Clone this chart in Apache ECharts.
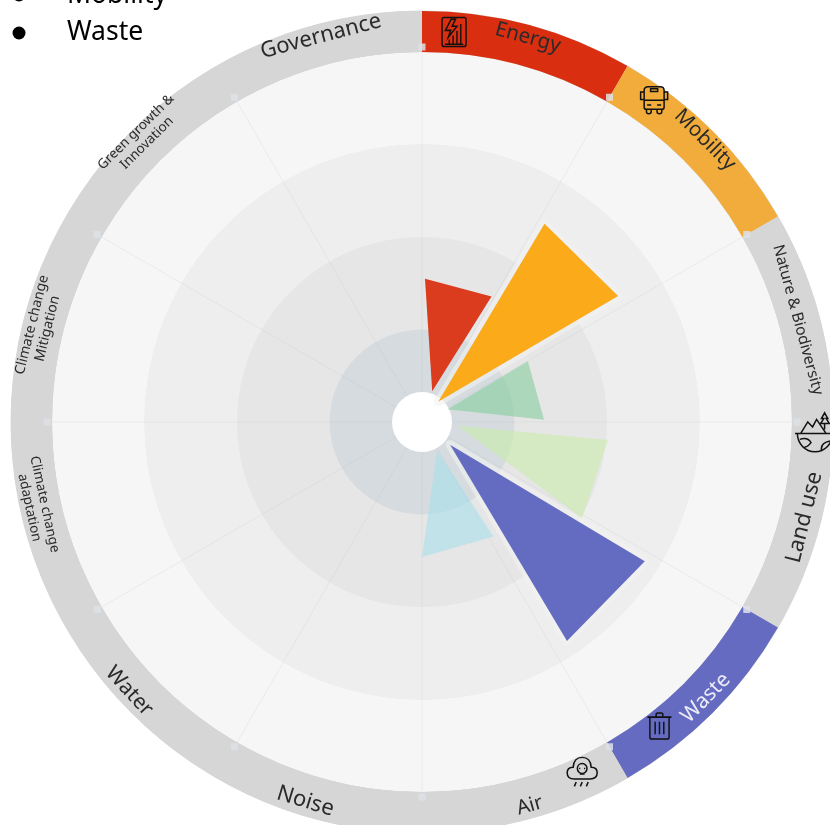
<!DOCTYPE html>
<html>
<head>
<meta charset="utf-8">
<title>Rose chart</title>
<script src="https://cdn.jsdelivr.net/npm/echarts@6/dist/echarts.min.js"></script>
<style>
  html, body { margin: 0; padding: 0; background: #fff; overflow: hidden; }
  #chart { width: 830px; height: 825px; }
</style>
</head>
<body>
<div id="chart"></div>
<script>
// ring themes, clockwise from 12 o'clock
var categories = [
  'Energy', 'Mobility', 'Nature & Biodiversity', 'Land use', 'Waste', 'Air',
  'Noise', 'Water', 'Climate change\nadaptation', 'Climate change\nMitigation',
  'Green growth &\nInnovation', 'Governance'
];
var barCategories = ['Energy', 'Mobility', 'Nature & Biodiversity', 'Land use', 'Waste', 'Air'];
var barValues = [1.55, 2.52, 1.32, 2.02, 2.84, 1.46];
var bulletLines = ['Mobility', 'Waste'];

var CX = 422, CY = 422;
var UNIT = 92.5; // px per radius unit
var RING_OUTER = 411;

var ringColors = ['#D92E10', '#F2AC3C', '#D6D6D6', '#D6D6D6', '#646BC0', '#D6D6D6',
  '#D6D6D6', '#D6D6D6', '#D6D6D6', '#D6D6D6', '#D6D6D6', '#D6D6D6'];
var ringLabelSizes = [20.5, 20.5, 15.5, 22, 21, 20, 22, 21, 13.5, 14, 13.5, 22];
// where each ring label sits: [radius, angle]
var ringLabelSpots = [
  [4.31, 15.4], [4.32, 45.1], [4.21, 74.8], [4.26, 104], [4.28, 134.2], [4.31, 164.3],
  [4.29, 197.1], [4.30, 227.4], [4.26, 257.7], [4.26, 284], [4.32, 315.4], [4.31, 345.3]
];
var barColors = ['#DB3C1D', '#FBAA1A', 'rgba(133,205,156,0.6)', 'rgba(202,237,172,0.6)', '#646CC2', 'rgba(168,223,233,0.6)'];
var barHalos = [0, 9, 0, 0, 9, 0];

// wedge shape per bar: [edge angle, edge angle, tip angle, tip radius]
var wedgeShape = [
  [1.2, 29, 18.4, 0.35],
  [31.7, 57.3, 38.7, 0.28],
  [60.1, 89, 63.4, 0.31],
  [95.5, 121, 96, 0.39],
  [122, 146.5, 129, 0.39],
  [148, 180, 152, 0.35]
];

// little line icons sitting in the ring
var iconEnergy = 'path://M8 0H92Q100 0 100 8V92Q100 100 92 100H8Q0 100 0 92V8Q0 0 8 0ZM38 6L14 44H36L26 68L62 30H42L56 6ZM30 92V76M46 92V62M62 92V46M78 92V22M12 92H88';
var iconBus = 'path://M30 0H70Q84 0 84 14V76Q84 84 76 84H24Q16 84 16 76V14Q16 0 30 0ZM16 50H84M38 8H62V18H38ZM16 20H4V48H16M84 20H96V48H84M24 84V94Q24 100 32 100Q40 100 40 94V84M60 84V94Q60 100 68 100Q76 100 76 94V84M26 68H40M60 68H74';
var iconGlobe = 'path://M0 50H100M6 50A44 44 0 0 0 94 50M14 50L32 22L44 34L54 16L78 50M12 64Q32 58 40 72Q30 84 24 82M66 90Q64 72 88 68M74 40V26M74 26L64 26L72 14L66 14L74 0L82 14L78 14L86 26Z';
var iconTrash = 'path://M0 16H100M36 16V6Q36 0 44 0H56Q64 0 64 6V16M10 16V92Q10 100 18 100H82Q90 100 90 92V16M32 34V82M50 34V82M68 34V82';
var iconCloud = 'path://M24 74Q0 74 0 54Q0 36 20 36Q22 4 50 4Q78 4 80 36Q100 36 100 54Q100 74 76 74ZM50 24A16 16 0 1 1 49.9 24ZM40 40H44M56 40H60M42 58H58M24 98L30 84M44 98L50 84M64 98L70 84';

var ringIcons = [
  { value: [4.23, 4.7], symbol: iconEnergy, symbolSize: [24, 29] },
  { value: [4.29, 35.8], symbol: iconBus, symbolSize: [27, 27] },
  { value: [4.25, 91.5], symbol: iconGlobe, symbolSize: [40, 39] },
  { value: [4.17, 142], symbol: iconTrash, symbolSize: [24, 26] },
  { value: [4.16, 155.4], symbol: iconCloud, symbolSize: [30, 29] }
];

var ringEdges = categories.map(function (c, i) { return [375 / UNIT, i * 30]; });

function renderWedge(params, api) {
  var i = params.dataIndex;
  var w = wedgeShape[i];
  var pts = [
    api.coord([w[3], w[2]]),
    api.coord([api.value(0), w[0]]),
    api.coord([api.value(0), w[1]])
  ];
  var children = [];
  if (barHalos[i]) {
    children.push({
      type: 'polygon',
      shape: { points: pts },
      style: { fill: 'none', stroke: 'rgba(242,242,242,0.6)', lineWidth: barHalos[i], lineJoin: 'round' }
    });
  }
  children.push({ type: 'polygon', shape: { points: pts }, style: { fill: barColors[i] } });
  return { type: 'group', children: children };
}

// tangential text, flipped on the lower half so it stays readable
function tangentRotate(angle) {
  return angle > 90 && angle < 270 ? 180 - angle : -angle;
}

var myChart = echarts.init(document.getElementById('chart'));

myChart.setOption({
  animation: false,
  polar: { center: [CX, CY], radius: RING_OUTER },
  angleAxis: {
    type: 'value', min: 0, max: 360, interval: 30, startAngle: 90, clockwise: true,
    axisLine: { show: false }, axisTick: { show: false }, axisLabel: { show: false },
    splitLine: { show: true, lineStyle: { color: 'rgba(175,175,175,0.16)', width: 1 } }
  },
  radiusAxis: {
    type: 'value', min: 0, max: RING_OUTER / UNIT, interval: 1,
    axisLine: { show: false }, axisTick: { show: false }, axisLabel: { show: false },
    splitLine: { show: true, lineStyle: { color: '#DADADA', width: 1 } },
    splitArea: { show: true, areaStyle: { color: ['#D5DBDF', '#E6E6E6', '#EEEEEE', '#F6F6F6', '#D6D6D6'] } }
  },
  graphic: [
    { type: 'text', left: 67, top: -18, style: { text: bulletLines[0], font: '26.5px "Noto Sans"', fill: '#000' } },
    { type: 'text', left: 67, top: 19, style: { text: bulletLines[1], font: '26.5px "Noto Sans"', fill: '#000' } },
    { type: 'circle', shape: { cx: 19, cy: -5, r: 6.5 }, style: { fill: '#000' } },
    { type: 'circle', shape: { cx: 19, cy: 33, r: 6.5 }, style: { fill: '#000' } }
  ],
  series: [
    {
      type: 'pie', silent: true, z: 2,
      center: [CX, CY], radius: [370, RING_OUTER], startAngle: 90,
      emphasis: { disabled: true },
      label: { show: false }, labelLine: { show: false },
      itemStyle: { borderWidth: 0 },
      data: categories.map(function (name, i) {
        return { name: name, value: 1, itemStyle: { color: ringColors[i] } };
      })
    },
    {
      type: 'pie', silent: true, z: 3,
      center: [CX, CY], radius: [0, 30],
      emphasis: { disabled: true },
      label: { show: false }, labelLine: { show: false },
      itemStyle: { color: '#fff' },
      data: [{ name: 'hole', value: 1 }]
    },
    {
      type: 'custom', coordinateSystem: 'polar', z: 4, silent: true,
      renderItem: renderWedge,
      encode: { radius: 0 },
      clip: false,
      data: barValues.map(function (v) { return [v]; })
    },
    {
      type: 'scatter', coordinateSystem: 'polar', z: 5, silent: true,
      symbol: 'rect', symbolSize: 7,
      itemStyle: { color: '#DDE2E8', opacity: 0.85 },
      data: ringEdges
    },
    {
      type: 'scatter', coordinateSystem: 'polar', z: 6, silent: true,
      itemStyle: { color: 'none', borderColor: '#111111', borderWidth: 1.5, opacity: 1 },
      data: ringIcons
    },
    {
      // ring labels
      type: 'scatter', coordinateSystem: 'polar', z: 7, silent: true,
      symbolSize: 1,
      itemStyle: { color: 'transparent', opacity: 1 },
      data: categories.map(function (name, i) {
        return {
          name: name,
          value: ringLabelSpots[i],
          label: {
            show: true, position: 'inside', align: 'center', verticalAlign: 'middle',
            formatter: '{b}', fontFamily: 'Noto Sans', fontSize: ringLabelSizes[i],
            lineHeight: ringLabelSizes[i] + 2,
            rotate: tangentRotate(ringLabelSpots[i][1]),
            color: name === 'Waste' ? '#ECECF8' : '#2A2A2A'
          }
        };
      })
    }
  ]
});
</script>
</body>
</html>
